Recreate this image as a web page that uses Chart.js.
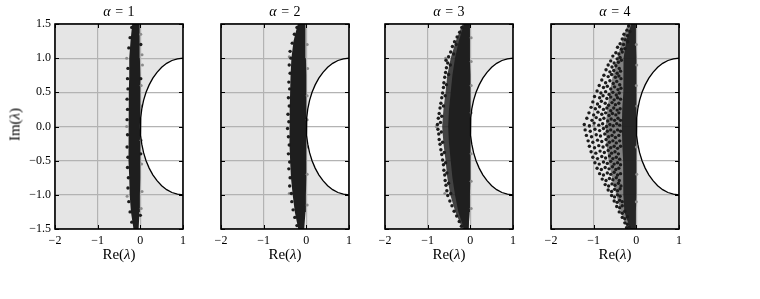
<!DOCTYPE html>
<html>
<head>
<meta charset="utf-8">
<script src="https://cdn.jsdelivr.net/npm/chart.js@4.4.1/dist/chart.umd.min.js"></script>
<style>
  body { margin: 0; background: #fff; width: 760px; height: 299px; position: relative; overflow: hidden; font-family: "Liberation Serif", serif; color: #000; }
  canvas { position: absolute; top: 0; }
  .ttl { position: absolute; top: 5px; width: 128px; font-size: 14px; line-height: 14px; text-align: center; word-spacing: 1px; white-space: nowrap; }
  .xl { position: absolute; top: 247px; width: 128px; font-size: 15px; line-height: 15px; text-align: center; white-space: nowrap; }
  .yl { position: absolute; left: -14.6px; top: 116.5px; width: 60px; height: 15px; font-size: 15px; line-height: 15px; text-align: center; white-space: nowrap; transform: rotate(-90deg); }
</style>
</head>
<body>
<canvas id="p0" width="200" height="299" style="left:0px"></canvas>
<canvas id="p1" width="200" height="299" style="left:166px"></canvas>
<canvas id="p2" width="200" height="299" style="left:330px"></canvas>
<canvas id="p3" width="200" height="299" style="left:496px"></canvas>

<div class="ttl" style="left:55px"><i>α</i> = 1</div>
<div class="ttl" style="left:221px"><i>α</i> = 2</div>
<div class="ttl" style="left:385px"><i>α</i> = 3</div>
<div class="ttl" style="left:551px"><i>α</i> = 4</div>
<div class="xl" style="left:55px">Re(<i>λ</i>)</div>
<div class="xl" style="left:221px">Re(<i>λ</i>)</div>
<div class="xl" style="left:385px">Re(<i>λ</i>)</div>
<div class="xl" style="left:551px">Re(<i>λ</i>)</div>
<div class="yl">Im(<i>λ</i>)</div>

<script>
// ejes
const xTicks = [-2, -1, 0, 1];
const yTicks = [-1.5, -1, -0.5, 0, 0.5, 1, 1.5];

// frontera de la region blanca
const boundaryX = [1, 0.869, 0.741, 0.617, 0.5, 0.391, 0.293, 0.207, 0.134, 0.076, 0.034, 0.009, 0,
                   0.009, 0.034, 0.076, 0.134, 0.207, 0.293, 0.391, 0.5, 0.617, 0.741, 0.869, 1];
const boundaryY = [1, 0.991, 0.966, 0.924, 0.866, 0.793, 0.707, 0.609, 0.5, 0.383, 0.259, 0.131, 0,
                   -0.131, -0.259, -0.383, -0.5, -0.609, -0.707, -0.793, -0.866, -0.924, -0.966, -0.991, -1];

// nucleo denso de cada nube (borde izquierdo y derecho por nivel de y)
const coreY = [1.5, 1.25, 1.0, 0.75, 0.5, 0.25, 0, -0.25, -0.5, -0.75, -1.0, -1.25, -1.5];
const coreLeft = [
  [-0.19, -0.23, -0.26, -0.26, -0.27, -0.28, -0.28, -0.28, -0.27, -0.26, -0.25, -0.22, -0.16],
  [-0.2, -0.3, -0.35, -0.37, -0.38, -0.39, -0.4, -0.39, -0.38, -0.36, -0.32, -0.27, -0.19],
  [-0.15, -0.27, -0.36, -0.42, -0.46, -0.5, -0.52, -0.5, -0.46, -0.42, -0.36, -0.28, -0.15],
  [-0.12, -0.24, -0.3, -0.3, -0.31, -0.33, -0.34, -0.33, -0.31, -0.3, -0.31, -0.28, -0.14]
];
const coreRight = [
  [-0.02, -0.01, -0.01, 0, 0, 0, -0.01, 0, 0, 0, -0.01, -0.02, -0.04],
  [-0.02, -0.02, -0.01, 0, 0, 0, 0, 0, 0, 0, -0.01, -0.02, -0.05],
  [-0.01, -0.01, -0.01, 0, 0, 0, 0, 0, 0, 0, -0.01, -0.02, -0.04],
  [-0.01, -0.01, 0, 0, 0, 0, 0, 0, 0, 0, 0, -0.01, -0.03]
];
// zona de densidad media alrededor del nucleo
const haloLeft = [
  [-0.19, -0.23, -0.26, -0.26, -0.27, -0.28, -0.28, -0.28, -0.27, -0.26, -0.25, -0.22, -0.16],
  [-0.2, -0.3, -0.35, -0.37, -0.38, -0.39, -0.4, -0.39, -0.38, -0.36, -0.32, -0.27, -0.19],
  [-0.18, -0.34, -0.46, -0.54, -0.58, -0.63, -0.66, -0.63, -0.58, -0.54, -0.47, -0.35, -0.18],
  [-0.2, -0.33, -0.45, -0.55, -0.62, -0.68, -0.72, -0.7, -0.65, -0.57, -0.47, -0.36, -0.2]
];
const coreAlpha = [1, 1, 0.95, 0.92];
const haloAlpha = [0, 0, 0.82, 0.5];

// puntos sueltos (autovalores) fuera del nucleo
const dots1 = [[-0.2,1.45],[-0.24,1.3],[-0.27,1.15],[-0.29,0.85],[-0.3,0.7],[-0.29,0.55],[-0.31,0.4],[-0.3,0.25],
  [-0.31,0.1],[-0.3,-0.12],[-0.31,-0.3],[-0.29,-0.45],[-0.3,-0.6],[-0.28,-0.75],[-0.29,-0.9],[-0.27,-1.1],
  [-0.24,-1.25],[-0.2,-1.4],[0.01,1.2],[0.01,0.7],[0.01,-0.4],[0,-1.3]];
const dots2 = [[-0.22,1.45],[-0.28,1.35],[-0.33,1.22],[-0.38,1.1],[-0.36,1.0],[-0.4,0.9],[-0.38,0.78],[-0.41,0.65],
  [-0.39,0.55],[-0.42,0.42],[-0.4,0.3],[-0.43,0.18],[-0.41,0.07],[-0.44,-0.03],[-0.42,-0.15],[-0.4,-0.27],
  [-0.42,-0.4],[-0.39,-0.52],[-0.41,-0.62],[-0.38,-0.75],[-0.39,-0.87],[-0.35,-0.98],[-0.34,-1.1],[-0.31,-1.22],
  [-0.27,-1.33],[-0.22,-1.45]];
const dots3 = [[-0.2,1.45],[-0.25,1.38],[-0.31,1.31],[-0.37,1.24],[-0.33,1.2],[-0.42,1.17],[-0.46,1.09],[-0.39,1.06],
  [-0.51,1.02],[-0.57,0.97],[-0.53,0.93],[-0.47,0.9],[-0.56,0.86],[-0.58,0.79],[-0.51,0.76],[-0.6,0.72],
  [-0.62,0.64],[-0.56,0.61],[-0.63,0.57],[-0.65,0.49],[-0.59,0.45],[-0.67,0.42],[-0.69,0.34],[-0.63,0.3],
  [-0.71,0.27],[-0.73,0.19],[-0.67,0.15],[-0.75,0.12],[-0.77,0.03],[-0.7,0.06],[-0.76,-0.04],[-0.74,-0.11],
  [-0.68,-0.08],[-0.73,-0.19],[-0.71,-0.26],[-0.65,-0.23],[-0.69,-0.34],[-0.67,-0.41],[-0.61,-0.38],
  [-0.65,-0.49],[-0.63,-0.56],[-0.58,-0.53],[-0.62,-0.64],[-0.6,-0.71],[-0.55,-0.68],[-0.59,-0.79],
  [-0.57,-0.86],[-0.51,-0.83],[-0.55,-0.94],[-0.53,-1.01],[-0.46,-0.98],[-0.48,-1.09],[-0.43,-1.16],
  [-0.38,-1.24],[-0.32,-1.31],[-0.26,-1.39],[-0.21,-1.46]];
const dots4 = [[-0.18,1.47],[-0.22,1.41],[-0.15,1.39],[-0.29,1.35],[-0.21,1.33],[-0.33,1.28],[-0.26,1.27],[-0.2,1.24],
  [-0.38,1.21],[-0.3,1.2],[-0.44,1.16],[-0.35,1.13],[-0.27,1.14],[-0.48,1.08],[-0.41,1.06],[-0.33,1.09],
  [-0.55,1.03],[-0.45,0.99],[-0.38,1.01],[-0.6,0.96],[-0.52,0.93],[-0.42,0.94],[-0.35,0.97],
  [-0.66,0.9],[-0.57,0.87],[-0.48,0.89],[-0.4,0.85],[-0.71,0.83],[-0.62,0.8],[-0.53,0.82],[-0.45,0.78],[-0.37,0.81],
  [-0.76,0.75],[-0.66,0.73],[-0.58,0.76],[-0.49,0.72],[-0.41,0.74],[-0.36,0.7],
  [-0.81,0.68],[-0.72,0.64],[-0.62,0.67],[-0.54,0.63],[-0.46,0.66],[-0.39,0.61],
  [-0.87,0.6],[-0.77,0.57],[-0.68,0.59],[-0.6,0.55],[-0.51,0.58],[-0.43,0.54],[-0.36,0.56],
  [-0.92,0.52],[-0.83,0.49],[-0.72,0.51],[-0.64,0.47],[-0.55,0.5],[-0.47,0.46],[-0.4,0.49],
  [-0.98,0.44],[-0.86,0.42],[-0.78,0.45],[-0.69,0.41],[-0.6,0.43],[-0.52,0.39],[-0.44,0.42],[-0.37,0.4],
  [-1.02,0.36],[-0.91,0.33],[-0.82,0.37],[-0.73,0.34],[-0.65,0.31],[-0.57,0.35],[-0.49,0.32],[-0.41,0.34],
  [-1.06,0.28],[-0.96,0.26],[-0.86,0.29],[-0.77,0.25],[-0.69,0.27],[-0.6,0.23],[-0.53,0.27],[-0.45,0.24],[-0.38,0.26],
  [-1.11,0.2],[-1.0,0.17],[-0.9,0.21],[-0.81,0.18],[-0.72,0.2],[-0.64,0.16],[-0.56,0.19],[-0.48,0.17],[-0.41,0.2],
  [-1.16,0.12],[-1.04,0.09],[-0.94,0.13],[-0.85,0.1],[-0.76,0.12],[-0.67,0.08],[-0.59,0.11],[-0.51,0.09],[-0.43,0.12],[-0.37,0.09],
  [-1.22,0.03],[-1.1,0.01],[-0.99,0.05],[-0.88,0.02],[-0.79,0.04],[-0.7,0.0],[-0.62,0.03],[-0.54,0.01],[-0.46,0.04],[-0.39,0.02],
  [-1.2,-0.05],[-1.08,-0.07],[-0.97,-0.04],[-0.86,-0.06],[-0.77,-0.03],[-0.68,-0.07],[-0.6,-0.05],[-0.52,-0.08],[-0.44,-0.05],[-0.37,-0.07],
  [-1.17,-0.13],[-1.05,-0.15],[-0.94,-0.12],[-0.84,-0.14],[-0.74,-0.11],[-0.65,-0.15],[-0.57,-0.13],[-0.49,-0.16],[-0.41,-0.13],
  [-1.13,-0.21],[-1.02,-0.23],[-0.91,-0.2],[-0.81,-0.22],[-0.71,-0.19],[-0.63,-0.23],[-0.55,-0.21],[-0.47,-0.24],[-0.39,-0.21],
  [-1.1,-0.29],[-0.98,-0.31],[-0.88,-0.28],[-0.78,-0.3],[-0.69,-0.27],[-0.6,-0.31],[-0.52,-0.29],[-0.44,-0.32],[-0.37,-0.29],
  [-1.06,-0.37],[-0.95,-0.39],[-0.85,-0.36],[-0.75,-0.38],[-0.66,-0.35],[-0.58,-0.39],[-0.5,-0.37],[-0.42,-0.4],
  [-1.02,-0.45],[-0.91,-0.47],[-0.81,-0.44],[-0.72,-0.46],[-0.63,-0.43],[-0.55,-0.47],[-0.47,-0.45],[-0.39,-0.48],
  [-0.97,-0.53],[-0.87,-0.55],[-0.77,-0.52],[-0.68,-0.54],[-0.6,-0.51],[-0.52,-0.55],[-0.44,-0.53],[-0.37,-0.56],
  [-0.92,-0.61],[-0.82,-0.63],[-0.73,-0.6],[-0.64,-0.62],[-0.56,-0.59],[-0.48,-0.63],[-0.41,-0.61],
  [-0.86,-0.69],[-0.77,-0.71],[-0.68,-0.68],[-0.6,-0.7],[-0.52,-0.67],[-0.44,-0.71],[-0.37,-0.69],
  [-0.8,-0.77],[-0.71,-0.79],[-0.63,-0.76],[-0.55,-0.78],[-0.47,-0.75],[-0.4,-0.79],
  [-0.73,-0.85],[-0.65,-0.87],[-0.57,-0.84],[-0.5,-0.86],[-0.42,-0.83],[-0.36,-0.87],
  [-0.66,-0.93],[-0.58,-0.95],[-0.51,-0.92],[-0.44,-0.94],[-0.38,-0.91],
  [-0.58,-1.01],[-0.51,-1.03],[-0.44,-1.0],[-0.38,-1.02],
  [-0.52,-1.09],[-0.45,-1.11],[-0.39,-1.08],[-0.33,-1.1],
  [-0.46,-1.17],[-0.39,-1.19],[-0.33,-1.16],
  [-0.4,-1.25],[-0.33,-1.27],[-0.27,-1.24],
  [-0.33,-1.33],[-0.27,-1.35],[-0.21,-1.32],
  [-0.27,-1.41],[-0.21,-1.43],[-0.23,-1.48],[-0.17,-1.47]];
const dots = [dots1, dots2, dots3, dots4];

// puntos grises (segunda serie)
const gray1 = [[0.04,1.05],[0.05,0.9],[-0.32,1.0],[0.02,0.6],[0.03,0.3],[-0.32,0.0],[0.02,-0.2],[0.03,-0.55],
  [0.04,-0.95],[-0.31,-1.02],[0.02,-1.2],[0.01,1.35]];
const gray2 = [[-0.4,1.02],[0.02,1.2],[0.03,0.85],[0.02,0.45],[0.02,0.1],[0.03,-0.3],[0.02,-0.7],[-0.4,-0.98],[0.02,-1.15]];
const gray3 = [[-0.58,1.0],[0.02,1.3],[0.02,0.95],[0.02,0.6],[-0.8,0.0],[0.02,0.2],[0.02,-0.4],[0.02,-0.8],[-0.6,-0.98],[0.02,-1.2]];
const gray4 = [[-1.1,0.0],[-1.0,0.01],[0.0,1.2],[0.01,0.9],[0.0,0.6],[0.01,0.3],[0.0,-0.3],[0.01,-0.7],[0.0,-1.1]];
const grays = [gray1, gray2, gray3, gray4];

const minus = s => String(s).replace('-', '\u2212');
const toXY = arr => arr.map(p => ({x: p[0], y: p[1]}));
const band = (left, right) => coreY.map((yy, i) => ({x: left[i], y: yy}))
    .concat(coreY.map((yy, i) => ({x: right[i], y: yy})).reverse());

Chart.defaults.font.family = '"Liberation Serif", serif';
Chart.defaults.color = '#000';

// fondo gris, region blanca, marco y marcas hacia dentro
const frame = {
    id: 'frame',
    beforeDraw(chart) {
        const {ctx, chartArea: a, scales: {x, y}} = chart;
        ctx.save();
        ctx.fillStyle = '#e5e5e5';
        ctx.fillRect(a.left, a.top, a.width, a.height);
        ctx.beginPath();
        boundaryX.forEach((bx, i) => {
            const px = x.getPixelForValue(bx), py = y.getPixelForValue(boundaryY[i]);
            if (i) ctx.lineTo(px, py); else ctx.moveTo(px, py);
        });
        ctx.closePath();
        ctx.fillStyle = '#fff';
        ctx.fill();
        ctx.restore();
    },
    afterDraw(chart) {
        const {ctx, chartArea: a, scales: {x, y}} = chart;
        ctx.save();
        ctx.strokeStyle = '#000';
        ctx.lineWidth = 1;
        ctx.beginPath();
        x.ticks.forEach(t => {
            const px = Math.round(x.getPixelForValue(t.value)) + 0.5;
            ctx.moveTo(px, a.top); ctx.lineTo(px, a.top + 4);
            ctx.moveTo(px, a.bottom); ctx.lineTo(px, a.bottom - 4);
        });
        y.ticks.forEach(t => {
            const py = Math.round(y.getPixelForValue(t.value)) + 0.5;
            ctx.moveTo(a.left, py); ctx.lineTo(a.left + 4, py);
            ctx.moveTo(a.right, py); ctx.lineTo(a.right - 4, py);
        });
        ctx.stroke();
        ctx.lineWidth = 1.6;
        ctx.strokeRect(a.left, a.top, a.width, a.height);
        ctx.restore();
    }
};

for (let k = 0; k < 4; k++) {
    new Chart(document.getElementById('p' + k), {
        type: 'scatter',
        data: {
            datasets: [
                {
                    type: 'line',
                    data: boundaryX.map((bx, i) => ({x: bx, y: boundaryY[i]})),
                    borderColor: '#000',
                    borderWidth: 1.3,
                    pointRadius: 0,
                    tension: 0,
                    fill: false
                },
                {
                    data: toXY(dots[k]),
                    backgroundColor: '#1c1c1c',
                    borderWidth: 0,
                    pointRadius: 1.7
                },
                {
                    data: toXY(grays[k]),
                    backgroundColor: '#8c8c8c',
                    borderWidth: 0,
                    pointRadius: 1.5
                },
                {
                    type: 'line',
                    data: band(coreLeft[k], coreRight[k]),
                    borderWidth: 0,
                    borderColor: 'rgba(0,0,0,0)',
                    backgroundColor: 'rgba(30,30,30,' + coreAlpha[k] + ')',
                    pointRadius: 0,
                    tension: 0,
                    fill: 'shape'
                },
                {
                    // el halo llega hasta el borde derecho para no dejar costura
                    type: 'line',
                    data: band(haloLeft[k], coreRight[k]),
                    borderWidth: 0,
                    borderColor: 'rgba(0,0,0,0)',
                    backgroundColor: 'rgba(30,30,30,' + haloAlpha[k] + ')',
                    pointRadius: 0,
                    tension: 0,
                    fill: 'shape'
                }
            ]
        },
        options: {
            responsive: false,
            animation: false,
            devicePixelRatio: 1,
            layout: { padding: { left: 0, right: 17, top: 24, bottom: 0 } },
            plugins: { legend: { display: false }, tooltip: { enabled: false } },
            scales: {
                x: {
                    type: 'linear',
                    min: -2,
                    max: 1,
                    afterBuildTicks: s => { s.ticks = xTicks.map(v => ({value: v})); },
                    afterFit: s => { s.height = 70; },
                    grid: { color: '#b3b3b3', lineWidth: 1.2, drawTicks: false },
                    border: { display: false },
                    ticks: {
                        padding: 5,
                        maxRotation: 0,
                        autoSkip: false,
                        font: { size: 12 },
                        callback: v => minus(v)
                    }
                },
                y: {
                    type: 'linear',
                    min: -1.5,
                    max: 1.5,
                    afterBuildTicks: s => { s.ticks = yTicks.map(v => ({value: v})); },
                    afterFit: s => { s.width = 55; },
                    grid: { color: '#b3b3b3', lineWidth: 1.2, drawTicks: false },
                    border: { display: false },
                    ticks: {
                        display: k === 0,
                        padding: 4,
                        autoSkip: false,
                        font: { size: 12 },
                        callback: v => minus(v.toFixed(1))
                    }
                }
            }
        },
        plugins: [frame]
    });
}
</script>
</body>
</html>
